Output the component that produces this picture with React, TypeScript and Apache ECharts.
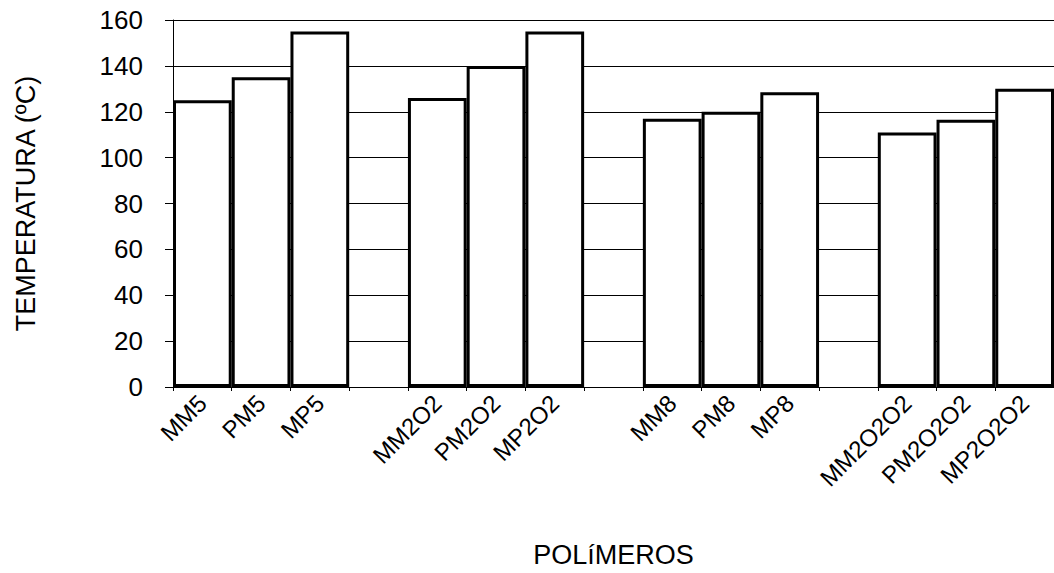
import React, { useEffect, useRef } from "react";
import * as echarts from "echarts";

const categories = [
  "MM5", "PM5", "MP5", "",
  "MM2O2", "PM2O2", "MP2O2", " ",
  "MM8", "PM8", "MP8", "  ",
  "MM2O2O2", "PM2O2O2", "MP2O2O2",
];
const temperatures: (number | string)[] = [
  125, 135, 155, "-",
  126, 140, 155, "-",
  117, 120, 128.5, "-",
  111, 116.5, 130,
];
const yTicks = { min: 0, max: 160, interval: 20 };
const yTitle = "TEMPERATURA (ºC)";
const xTitle = "POLíMEROS";

const FONT = "'Liberation Sans', Arial, Helvetica, sans-serif";

export default function App() {
  const ref = useRef<HTMLDivElement>(null);
  useEffect(() => {
    if (!ref.current) return;
    const chart = echarts.init(ref.current, undefined, { renderer: "svg" });
    chart.setOption({
      animation: false,
      backgroundColor: "#ffffff",
      grid: { left: 173, right: -6, top: 20, bottom: 186, containLabel: false },
      xAxis: {
        type: "category",
        data: categories,
        boundaryGap: true,
        axisLine: { show: true, lineStyle: { color: "#000", width: 1 } },
        axisTick: { show: true, length: 4, lineStyle: { color: "#000" } },
        axisLabel: {
          rotate: 45,
          interval: 0,
          margin: 12,
          color: "#000",
          fontFamily: FONT,
          fontSize: 24,
        },
        name: xTitle,
        nameLocation: "middle",
        nameGap: 154,
        nameTextStyle: { color: "#000", fontFamily: FONT, fontSize: 27 },
      },
      yAxis: {
        type: "value",
        min: yTicks.min,
        max: yTicks.max,
        interval: yTicks.interval,
        axisLine: { show: true, lineStyle: { color: "#000", width: 1 } },
        axisTick: { show: true, inside: false, length: 8, lineStyle: { color: "#000" } },
        axisLabel: {
          margin: 30,
          color: "#000",
          fontFamily: FONT,
          fontSize: 26,
        },
        splitLine: { show: true, lineStyle: { color: "#000", width: 1 } },
        name: yTitle,
        nameLocation: "middle",
        nameGap: 134,
        nameRotate: 90,
        nameTextStyle: { color: "#000", fontFamily: FONT, fontSize: 27 },
      },
      series: [
        {
          type: "bar",
          data: temperatures,
          barWidth: "100%",
          barCategoryGap: 0,
          itemStyle: { color: "#ffffff", borderColor: "#000000", borderWidth: 3 },
        },
      ],
    });
    return () => chart.dispose();
  }, []);
  return (
    <div
      ref={ref}
      style={{ position: "fixed", left: 0, top: 0, width: 1054, height: 573, background: "#fff" }}
    />
  );
}
